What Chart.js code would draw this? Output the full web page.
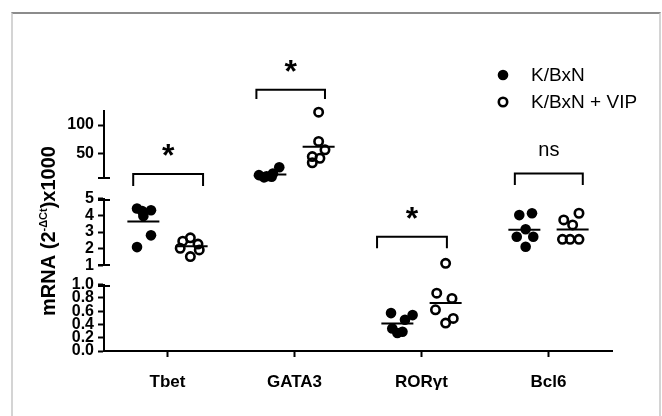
<!DOCTYPE html>
<html>
<head>
<meta charset="utf-8">
<script src="https://cdn.jsdelivr.net/npm/chart.js@4.4.1/dist/chart.umd.min.js"></script>
<style>
  html, body { margin: 0; padding: 0; background: #fff; }
  #wrap { position: relative; width: 662px; height: 416px; overflow: hidden; }
  #frame {
    position: absolute; left: 11px; top: 12px; width: 650px; height: 420px;
    box-sizing: border-box;
    border-top: 2px solid #8c8c8c;
    border-left: 2px solid #d4d4d4;
    border-right: 2px solid #d4d4d4;
  }
  #chart { position: absolute; left: 0; top: 0; }
</style>
</head>
<body>
<div id="wrap">
  <div id="frame"></div>
  <canvas id="chart" width="662" height="416"></canvas>
</div>
<script>
const categories = ['Tbet', 'GATA3', 'ROR\u03b3t', 'Bcl6'];
const seriesNames = ['K/BxN', 'K/BxN + VIP'];

// mRNA (2^-dCt) x1000, one dot per mouse
const tbetKbxn = [4.4, 4.25, 4.3, 3.95, 2.8, 2.1];
const tbetVip = [2.65, 2.45, 2.28, 2.03, 1.93, 1.53];
const gata3Kbxn = [25, 14, 11, 9, 8, 7];
const gata3Vip = [123, 71, 56, 44, 41, 33];
const rorKbxn = [0.57, 0.54, 0.47, 0.34, 0.27, 0.29];
const rorVip = [1.13, 0.87, 0.79, 0.62, 0.49, 0.42];
const bcl6Kbxn = [4.01, 4.12, 3.16, 2.72, 2.72, 2.12];
const bcl6Vip = [3.72, 4.12, 3.42, 2.56, 2.56, 2.56];

// horizontal scatter of the dots, in category units from the tick
const tbetKbxnX = [-0.24, -0.20, -0.13, -0.19, -0.13, -0.24];
const tbetVipX = [0.18, 0.12, 0.24, 0.10, 0.25, 0.18];
const gata3KbxnX = [-0.12, -0.17, -0.28, -0.22, -0.18, -0.24];
const gata3VipX = [0.19, 0.19, 0.24, 0.14, 0.20, 0.14];
const rorKbxnX = [-0.24, -0.07, -0.13, -0.23, -0.19, -0.15];
const rorVipX = [0.19, 0.12, 0.24, 0.11, 0.25, 0.19];
const bcl6KbxnX = [-0.23, -0.13, -0.18, -0.25, -0.12, -0.18];
const bcl6VipX = [0.12, 0.24, 0.19, 0.11, 0.17, 0.24];

const kbxnValues = [tbetKbxn, gata3Kbxn, rorKbxn, bcl6Kbxn];
const vipValues = [tbetVip, gata3Vip, rorVip, bcl6Vip];
const kbxnJitter = [tbetKbxnX, gata3KbxnX, rorKbxnX, bcl6KbxnX];
const vipJitter = [tbetVipX, gata3VipX, rorVipX, bcl6VipX];
const meanOffset = 0.19;

// y axis is broken in three pieces
const topTicks = [50, 100];
const midTicks = [1, 2, 3, 4, 5];
const lowTicks = [0, 0.2, 0.4, 0.6, 0.8, 1.0];

// significance brackets
const bracketText = ['*', '*', '*', 'ns'];
const bracketAxis = ['yMid', 'yTop', 'yMid', 'yMid'];
const bracketLeft = [-0.27, -0.30, -0.35, -0.265];
const bracketRight = [0.28, 0.24, 0.20, 0.27];
const bracketTop = [6.46, 162.6, 2.72, 6.49];
const bracketFoot = [5.75, 146.5, 2.03, 5.81];

const FONT = "'Liberation Sans', Arial, sans-serif";

const segmentFor = (v) => v >= 5 ? 'yTop' : (v >= 1 ? 'yMid' : 'yLow');
const mean = (arr) => arr.reduce((a, b) => a + b, 0) / arr.length;

const datasets = [];
const pointStyles = [
    {label: seriesNames[0], values: kbxnValues, jitter: kbxnJitter, side: -1,
     backgroundColor: '#000', borderColor: '#000', pointRadius: 5.3, borderWidth: 0},
    {label: seriesNames[1], values: vipValues, jitter: vipJitter, side: 1,
     backgroundColor: 'rgba(0,0,0,0)', borderColor: '#000', pointRadius: 4.2, borderWidth: 2.6},
];

pointStyles.forEach((s) => {
    ['yTop', 'yMid', 'yLow'].forEach((axis) => {
        const pts = [];
        const means = [];
        s.values.forEach((vals, i) => {
            vals.forEach((v, k) => {
                if (segmentFor(v) === axis) pts.push({x: i + s.jitter[i][k], y: v});
            });
            const m = mean(vals);
            if (segmentFor(m) === axis) means.push({x: i + s.side * meanOffset, y: m});
        });
        if (pts.length) {
            datasets.push({
                type: 'scatter', label: s.label, data: pts, yAxisID: axis, clip: false,
                backgroundColor: s.backgroundColor, borderColor: s.borderColor,
                pointRadius: s.pointRadius, borderWidth: s.borderWidth,
            });
        }
        if (means.length) {
            datasets.push({
                type: 'scatter', label: 'mean', data: means, yAxisID: axis, clip: false,
                pointStyle: 'line', pointRadius: 16, borderWidth: 2, borderColor: '#000',
            });
        }
    });
});

categories.forEach((c, i) => {
    datasets.push({
        type: 'scatter', label: 'bracket', showLine: true, clip: false,
        yAxisID: bracketAxis[i],
        data: [
            {x: i + bracketLeft[i], y: bracketFoot[i]},
            {x: i + bracketLeft[i], y: bracketTop[i]},
            {x: i + bracketRight[i], y: bracketTop[i]},
            {x: i + bracketRight[i], y: bracketFoot[i]},
        ],
        borderColor: '#000', borderWidth: 2, pointRadius: 0, fill: false,
    });
});

const axisWidth = 104;

const segmentAxis = (min, max, ticks, weight, fmt) => ({
    type: 'linear', position: 'left', stack: 'y', stackWeight: weight,
    min: min, max: max,
    border: {display: true, color: '#000', width: 2},
    grid: {display: true, drawOnChartArea: false, drawTicks: true, tickLength: 6, tickWidth: 2, tickColor: '#000'},
    ticks: {
        color: '#000', autoSkip: false, padding: 4,
        font: {family: FONT, size: 16, weight: 'bold'},
        callback: fmt,
    },
    afterBuildTicks: (scale) => { scale.ticks = ticks.map((v) => ({value: v})); },
    afterFit: (scale) => { scale.width = axisWidth; },
});

const gapAxis = (weight) => ({
    type: 'linear', position: 'left', stack: 'y', stackWeight: weight,
    min: 0, max: 1,
    border: {display: false},
    grid: {display: false},
    ticks: {display: false},
    afterFit: (scale) => { scale.width = axisWidth; },
});

// axis-break caps on the ends of each y piece
const capsPlugin = {
    id: 'caps',
    afterDraw(chart) {
        const ctx = chart.ctx;
        const ends = [['yTop', 'bottom'], ['yMid', 'top'], ['yMid', 'bottom'], ['yLow', 'top']];
        ctx.save();
        ctx.strokeStyle = '#000';
        ctx.lineWidth = 2;
        ends.forEach(([id, edge]) => {
            const s = chart.scales[id];
            const y = Math.round(s[edge]) + (edge === 'top' ? 1 : -1);
            ctx.beginPath();
            ctx.moveTo(s.right - 6, y);
            ctx.lineTo(s.right + 6, y);
            ctx.stroke();
        });
        ctx.restore();
    },
};

const starsPlugin = {
    id: 'stars',
    afterDatasetsDraw(chart) {
        const ctx = chart.ctx;
        const x = chart.scales.x;
        ctx.save();
        ctx.fillStyle = '#000';
        ctx.textAlign = 'center';
        ctx.textBaseline = 'alphabetic';
        bracketText.forEach((t, i) => {
            const cx = x.getPixelForValue(i + (bracketLeft[i] + bracketRight[i]) / 2);
            const top = chart.scales[bracketAxis[i]].getPixelForValue(bracketTop[i]);
            if (t === 'ns') {
                ctx.font = '20px ' + FONT;
                ctx.fillText(t, cx, top - 23 + 5);
            } else {
                ctx.font = 'bold 32px ' + FONT;
                ctx.fillText(t, cx, top - 26 + 18);
            }
        });
        ctx.restore();
    },
};

const titlePlugin = {
    id: 'yTitle',
    afterDraw(chart) {
        const ctx = chart.ctx;
        const parts = [
            {t: 'mRNA (2', font: 'bold 20px ' + FONT, rise: 0},
            {t: '-\u0394Ct', font: 'bold 11px ' + FONT, rise: 8},
            {t: ')x1000', font: 'bold 20px ' + FONT, rise: 0},
        ];
        ctx.save();
        ctx.translate(55, 231);
        ctx.rotate(-Math.PI / 2);
        ctx.fillStyle = '#000';
        ctx.textBaseline = 'alphabetic';
        ctx.textAlign = 'left';
        let total = 0;
        parts.forEach((p) => { ctx.font = p.font; p.w = ctx.measureText(p.t).width; total += p.w; });
        let px = -total / 2;
        parts.forEach((p) => {
            ctx.font = p.font;
            ctx.fillText(p.t, px, -p.rise);
            px += p.w;
        });
        ctx.restore();
    },
};

const legendPlugin = {
    id: 'dotLegend',
    afterDraw(chart) {
        const ctx = chart.ctx;
        ctx.save();
        pointStyles.forEach((s, i) => {
            const y = 75 + i * 27;
            ctx.beginPath();
            ctx.arc(503, y, s.pointRadius, 0, Math.PI * 2);
            ctx.fillStyle = s.backgroundColor;
            ctx.fill();
            if (s.borderWidth) {
                ctx.lineWidth = s.borderWidth;
                ctx.strokeStyle = s.borderColor;
                ctx.stroke();
            }
            ctx.fillStyle = '#000';
            ctx.font = '19px ' + FONT;
            ctx.textBaseline = 'middle';
            ctx.textAlign = 'left';
            ctx.fillText(s.label, 531, y + 1);
        });
        ctx.restore();
    },
};

new Chart(document.getElementById('chart'), {
    type: 'scatter',
    data: {datasets: datasets},
    options: {
        responsive: false,
        animation: false,
        events: [],
        layout: {padding: {top: 111, right: 50, left: 0, bottom: 0}},
        plugins: {
            legend: {display: false},
            tooltip: {enabled: false},
        },
        scales: {
            x: {
                type: 'linear', min: -0.5, max: 3.5,
                border: {display: true, color: '#000', width: 2},
                grid: {display: true, drawOnChartArea: false, drawTicks: true, tickLength: 6, tickWidth: 2, tickColor: '#000'},
                ticks: {
                    color: '#000', padding: 15,
                    font: {family: FONT, size: 17, weight: 'bold'},
                    callback: (v) => categories[v],
                },
                afterBuildTicks: (scale) => { scale.ticks = categories.map((c, i) => ({value: i})); },
                afterFit: (scale) => { scale.height = 65; },
            },
            yLow: segmentAxis(0, 1, lowTicks, 66.5, (v) => v.toFixed(1)),
            gapLow: gapAxis(19),
            yMid: segmentAxis(1, 5, midTicks, 67, (v) => v),
            gapTop: gapAxis(20),
            yTop: segmentAxis(5, 125, topTicks, 67.5, (v) => v),
        },
    },
    plugins: [capsPlugin, starsPlugin, titlePlugin, legendPlugin],
});
</script>
</body>
</html>
